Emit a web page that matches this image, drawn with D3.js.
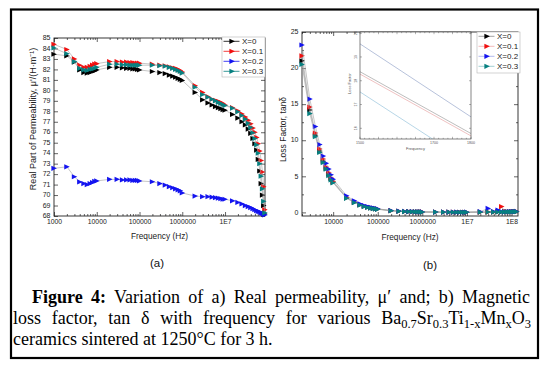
<!DOCTYPE html>
<html>
<head>
<meta charset="utf-8">
<script src="https://d3js.org/d3.v7.min.js"></script>
<style>
body { margin: 0; background: #fff; }
</style>
</head>
<body>
<div id="chart-area"></div>
<script>
// ---- data ----
var seriesNames = ["X=0", "X=0.1", "X=0.2", "X=0.3"];

// (a) real permeability
var freqA = [1000, 2000, 3000, 4000, 5000, 6000, 7000, 8000, 9000,
	10000, 20000, 30000, 40000, 50000, 60000, 70000, 80000, 90000,
	100000, 200000, 300000, 400000, 500000, 600000, 700000, 800000, 900000,
	1e6, 2e6, 3e6, 4e6, 5e6, 6e6, 7e6, 8e6, 9e6,
	1e7, 1.5e7, 2e7, 2.5e7, 3e7, 3.5e7, 4e7, 4.5e7, 5e7, 5.5e7, 6e7, 6.5e7, 7e7, 7.5e7, 8e7, 8.5e7];

var permX0 = [83.45, 83.3, 82.7, 81.95, 81.7, 81.65, 81.7, 81.8, 81.85,
	81.95, 82.2, 82.2, 82.15, 82.1, 82.1, 82.05, 82.05, 82.0,
	81.95, 81.8, 81.7, 81.6, 81.45, 81.35, 81.25, 81.15, 81.05,
	80.95, 79.8, 79.1, 78.8, 78.6, 78.45, 78.35, 78.25, 78.15,
	78.1, 77.7, 77.35, 77.0, 76.7, 76.3, 75.9, 75.4, 74.9, 74.3, 73.4, 72.3, 71.1, 70.0, 69.0, 68.2];
var permX01 = [84.4, 83.9, 83.0, 82.4, 82.2, 82.2, 82.3, 82.4, 82.5,
	82.55, 82.75, 82.75, 82.7, 82.7, 82.65, 82.65, 82.6, 82.6,
	82.6, 82.5, 82.4, 82.35, 82.25, 82.15, 82.1, 82.0, 81.9,
	81.75, 80.45, 79.8, 79.4, 79.15, 79.05, 78.95, 78.85, 78.75,
	78.6, 78.35, 78.05, 77.75, 77.45, 77.15, 76.8, 76.4, 76.0, 75.5, 74.9, 74.2, 73.3, 72.2, 70.8, 68.6];
var permX02 = [72.55, 72.7, 71.75, 71.25, 71.1, 71.0, 71.1, 71.2, 71.3,
	71.35, 71.5, 71.5, 71.45, 71.45, 71.45, 71.4, 71.4, 71.4,
	71.35, 71.27, 71.1, 70.95, 70.8, 70.7, 70.6, 70.5, 70.4,
	70.2, 69.9, 69.85, 69.85, 69.8, 69.75, 69.7, 69.65, 69.6,
	69.6, 69.45, 69.3, 69.15, 69.0, 68.9, 68.8, 68.7, 68.6, 68.5, 68.45, 68.4, 68.3, 68.25, 68.2, 68.1];
var permX03 = [84.05, 83.5, 82.75, 82.1, 81.95, 81.9, 82.0, 82.05, 82.1,
	82.2, 82.5, 82.5, 82.45, 82.45, 82.4, 82.4, 82.4, 82.4,
	82.4, 82.4, 82.35, 82.3, 82.2, 82.1, 82.0, 81.9, 81.8,
	81.65, 80.3, 79.6, 79.35, 79.15, 79.0, 78.85, 78.75, 78.65,
	78.55, 78.3, 77.95, 77.6, 77.25, 76.85, 76.45, 75.95, 75.4, 74.8, 74.0, 73.0, 71.8, 70.6, 69.4, 68.3];

var xTicksA = [1000, 10000, 100000, 1000000, 10000000];
var xLabelsA = ["1000", "10000", "100000", "1000000", "1E7"];
var yTicksA = [68, 69, 70, 71, 72, 73, 74, 75, 76, 77, 78, 79, 80, 81, 82, 83, 84, 85];

// (b) loss factor
var freqB = [2000, 3000, 4000, 5000, 6000, 7000, 8000, 9000,
	10000, 20000, 30000, 40000, 50000, 60000, 70000, 80000, 90000,
	100000, 200000, 300000, 400000, 500000, 600000, 700000, 800000, 900000,
	1e6, 2e6, 3e6, 4e6, 5e6, 6e6, 7e6, 8e6, 9e6,
	1e7, 2e7, 3e7, 4e7, 5e7, 6e7, 7e7, 8e7, 9e7, 1e8, 1.1e8, 1.2e8, 1.3e8];

var lossX0 = [21.0, 14.2, 10.7, 8.5, 7.1, 6.1, 5.3, 4.7,
	4.2, 2.0, 1.4, 1.05, 0.85, 0.72, 0.62, 0.55, 0.5,
	0.45, 0.23, 0.16, 0.12, 0.1, 0.09, 0.08, 0.07, 0.06,
	0.06, 0.04, 0.03, 0.03, 0.02, 0.02, 0.02, 0.02, 0.02,
	0.02, 0.03, 0.04, 0.05, 0.06, 0.05, 0.07, 0.06, 0.08, 0.09, 0.1, 0.1, 0.12];
var lossX01 = [21.7, 14.6, 11.0, 8.8, 7.4, 6.3, 5.5, 4.8,
	4.3, 2.1, 1.45, 1.1, 0.9, 0.75, 0.65, 0.58, 0.52,
	0.47, 0.24, 0.17, 0.13, 0.11, 0.09, 0.08, 0.07, 0.07,
	0.06, 0.04, 0.03, 0.03, 0.03, 0.02, 0.02, 0.02, 0.02,
	0.02, 0.04, 0.05, 0.06, 0.12, 0.8, 0.15, 0.1, 0.08, 0.1, 0.12, 0.1, 0.13];
var lossX02 = [23.2, 15.7, 11.9, 9.4, 7.8, 6.8, 6.0, 5.2,
	4.6, 2.3, 1.6, 1.2, 0.95, 0.8, 0.7, 0.62, 0.55,
	0.5, 0.26, 0.18, 0.14, 0.12, 0.1, 0.09, 0.08, 0.07,
	0.07, 0.05, 0.04, 0.03, 0.03, 0.03, 0.02, 0.02, 0.02,
	0.03, 0.1, 0.55, 0.12, 0.33, 0.1, 0.08, 0.09, 0.1, 0.11, 0.1, 0.12, 0.14];
var lossX03 = [20.5, 13.7, 10.5, 8.3, 6.9, 6.0, 5.1, 4.5,
	4.1, 1.95, 1.35, 1.0, 0.8, 0.68, 0.6, 0.52, 0.48,
	0.43, 0.22, 0.15, 0.12, 0.1, 0.09, 0.08, 0.07, 0.06,
	0.05, 0.04, 0.03, 0.03, 0.02, 0.02, 0.02, 0.02, 0.02,
	0.02, 0.03, 0.04, 0.05, 0.05, 0.06, 0.06, 0.07, 0.08, 0.08, 0.09, 0.1, 0.1];

var xTicksB = [10000, 100000, 1000000, 10000000, 100000000];
var xLabelsB = ["10000", "100000", "1000000", "1E7", "1E8"];
var yTicksB = [0, 5, 10, 15, 20, 25];
var yMinorB = [2.5, 7.5, 12.5, 17.5, 22.5];

// (b) inset
var insetFreq = [1500, 1800];
var insetX0 = [18.38, 15.78];
var insetX01 = [18.28, 15.68];
var insetX02 = [19.55, 16.48];
var insetX03 = [17.53, 14.5];
var insetXTicks = [1500, 1700, 1800];
var insetYTicks = [16, 17, 18, 19, 20];

// ---- styles ----
var colors = ["#000000", "#f01010", "#1414f0", "#078080"];
var paleColors = ["#8c8c8c", "#f0a8a8", "#a0a8e8", "#8cc4c8"];
var insetColors = ["#a0a0a0", "#e8a8a8", "#98a8cc", "#98c4dc"];
var sans = "'Liberation Sans', Arial, sans-serif";
var marker = "M-2.6,-2.6L2.9,0L-2.6,2.6Z";

var svg = d3.select("#chart-area")
	.append("svg")
		.attr("width", 548)
		.attr("height", 367)
		.attr("font-family", sans);

svg.append("rect")
	.attr("x", 11)
	.attr("y", 9.5)
	.attr("width", 527)
	.attr("height", 348.5)
	.attr("fill", "#fff")
	.attr("stroke", "#000")
	.attr("stroke-width", 2.2);

// axes + frame, ticks pointing inward on all four sides
function drawAxes(g, x, y, width, height, xMajor, xLabels, xMinor, yMajor, yMinor) {
	var c = "#222";
	function style(sel, fs) {
		sel.attr("font-family", sans).attr("font-size", fs).attr("color", c);
		sel.select(".domain").remove();
		sel.selectAll(".tick line").attr("stroke-width", 0.7);
	}
	g.append("g")
		.attr("transform", "translate(0," + height + ")")
		.call(d3.axisBottom(x).tickValues(xMajor).tickSize(-4).tickPadding(3.5)
			.tickFormat(function(d, i){ return xLabels[i]; }))
		.call(style, 6.8);
	g.append("g")
		.attr("transform", "translate(0," + height + ")")
		.call(d3.axisBottom(x).tickValues(xMinor).tickSize(-2).tickFormat(""))
		.call(style, 6.8);
	g.append("g")
		.call(d3.axisTop(x).tickValues(xMajor).tickSize(-4).tickFormat(""))
		.call(style, 6.8);
	g.append("g")
		.call(d3.axisTop(x).tickValues(xMinor).tickSize(-2).tickFormat(""))
		.call(style, 6.8);
	g.append("g")
		.call(d3.axisLeft(y).tickValues(yMajor).tickSize(-4).tickPadding(3.5))
		.call(style, 7)
		.selectAll("text").attr("dy", "0.25em");
	g.append("g")
		.attr("transform", "translate(" + width + ",0)")
		.call(d3.axisRight(y).tickValues(yMajor).tickSize(-4).tickFormat(""))
		.call(style, 7);
	if (yMinor) {
		g.append("g")
			.call(d3.axisLeft(y).tickValues(yMinor).tickSize(-2).tickFormat(""))
			.call(style, 7);
		g.append("g")
			.attr("transform", "translate(" + width + ",0)")
			.call(d3.axisRight(y).tickValues(yMinor).tickSize(-2).tickFormat(""))
			.call(style, 7);
	}
	g.append("rect")
		.attr("width", width)
		.attr("height", height)
		.attr("fill", "none")
		.attr("stroke", "#222")
		.attr("stroke-width", 0.9);
}

function drawSeries(g, x, y, freq, values, color) {
	var pts = d3.zip(freq, values);
	g.append("path")
		.datum(pts)
		.attr("fill", "none")
		.attr("stroke", "#a0a0a0")
		.attr("stroke-width", 0.6)
		.attr("d", d3.line().x(function(d){ return x(d[0]); }).y(function(d){ return y(d[1]); }));
	g.selectAll(null)
		.data(pts)
		.enter()
		.append("path")
			.attr("d", marker)
			.attr("fill", color)
			.attr("transform", function(d){ return "translate(" + x(d[0]) + "," + y(d[1]) + ")"; });
}

function drawLegend(g, x0, y0, w, h, lineColors) {
	var lg = g.append("g").attr("transform", "translate(" + x0 + "," + y0 + ")");
	lg.append("rect")
		.attr("width", w)
		.attr("height", h)
		.attr("fill", "#fff")
		.attr("stroke", "#b4b4b4")
		.attr("stroke-width", 0.6);
	seriesNames.forEach(function(name, i){
		var yy = 4.3 + i * 10;
		lg.append("line")
			.attr("x1", 1.5).attr("x2", 17.5)
			.attr("y1", yy).attr("y2", yy)
			.attr("stroke", lineColors[i])
			.attr("stroke-width", 0.8);
		lg.append("path")
			.attr("d", marker)
			.attr("fill", colors[i])
			.attr("transform", "translate(10," + yy + ")");
		lg.append("text")
			.attr("x", 20)
			.attr("y", yy + 2.8)
			.attr("font-size", 8)
			.attr("fill", "#222")
			.text(name);
	});
}

// ================= (a) =================
var gA = svg.append("g").attr("transform", "translate(54,38)");
var widthA = 211, heightA = 178;

var xA = d3.scaleLog().domain([1000, 8.6e7]).range([0, widthA]);
var yA = d3.scaleLinear().domain([68, 85]).range([heightA, 0]);
var minorA = xA.ticks().filter(function(d){ return xTicksA.indexOf(d) < 0; });

drawAxes(gA, xA, yA, widthA, heightA, xTicksA, xLabelsA, minorA, yTicksA, null);

[permX0, permX01, permX02, permX03].forEach(function(v, i){
	drawSeries(gA, xA, yA, freqA, v, colors[i]);
});

drawLegend(svg, 222, 37, 43, 40, colors);

// X Label
svg.append("text")
	.attr("x", 159.5)
	.attr("y", 239)
	.attr("font-size", 8.3)
	.attr("text-anchor", "middle")
	.attr("fill", "#222")
	.text("Frequency (Hz)");

// Y Label
svg.append("text")
	.attr("transform", "translate(36,119) rotate(-90)")
	.attr("font-size", 9)
	.attr("text-anchor", "middle")
	.attr("fill", "#222")
	.text("Real Part of Permeability, μ'/(H·m⁻¹)");

svg.append("text")
	.attr("x", 157)
	.attr("y", 266.5)
	.attr("font-size", 11.5)
	.attr("text-anchor", "middle")
	.attr("fill", "#111")
	.text("(a)");

// ================= (b) =================
var gB = svg.append("g").attr("transform", "translate(302,32)");
var widthB = 216, heightB = 184;

var xB = d3.scaleLog().domain([2000, 1.4e8]).range([0, widthB]);
var yB = d3.scaleLinear().domain([-0.5, 25]).range([heightB, 0]);
var minorB = xB.ticks().filter(function(d){ return xTicksB.indexOf(d) < 0; });

drawAxes(gB, xB, yB, widthB, heightB, xTicksB, xLabelsB, minorB, yTicksB, yMinorB);

[lossX0, lossX01, lossX02, lossX03].forEach(function(v, i){
	drawSeries(gB, xB, yB, freqB, v, colors[i]);
});

// inset
var gI = svg.append("g").attr("transform", "translate(360,32)");
var widthI = 111, heightI = 107;
var xI = d3.scaleLinear().domain([1500, 1800]).range([0, widthI]);
var yI = d3.scaleLinear().domain([15.55, 20.05]).range([heightI, 0]);

gI.append("rect")
	.attr("width", widthI)
	.attr("height", heightI)
	.attr("fill", "#fff");
gI.append("clipPath")
	.attr("id", "inset-clip")
	.append("rect")
		.attr("width", widthI)
		.attr("height", heightI);

[insetX0, insetX01, insetX02, insetX03].forEach(function(v, i){
	gI.append("path")
		.datum(d3.zip(insetFreq, v))
		.attr("clip-path", "url(#inset-clip)")
		.attr("fill", "none")
		.attr("stroke", insetColors[i])
		.attr("stroke-width", 0.7)
		.attr("d", d3.line().x(function(d){ return xI(d[0]); }).y(function(d){ return yI(d[1]); }));
});

var minorI = d3.range(1500, 1801, 12.5);
[[0, -2.2, -1.2], [heightI, 2.2, 1.2]].forEach(function(s){
	gI.selectAll(null).data(minorI).enter().append("line")
		.attr("x1", function(d){ return xI(d); }).attr("x2", function(d){ return xI(d); })
		.attr("y1", s[0]).attr("y2", function(d){ return s[0] - (d % 50 === 0 ? s[1] : s[2]); })
		.attr("stroke", "#444").attr("stroke-width", 0.4);
});
[[0, 2], [widthI, -2]].forEach(function(s){
	gI.selectAll(null).data(insetYTicks).enter().append("line")
		.attr("x1", s[0]).attr("x2", s[0] + s[1])
		.attr("y1", function(d){ return yI(d); }).attr("y2", function(d){ return yI(d); })
		.attr("stroke", "#444").attr("stroke-width", 0.4);
});
gI.selectAll(null).data(insetXTicks).enter().append("text")
	.attr("x", function(d){ return xI(d); })
	.attr("y", heightI + 5)
	.attr("font-size", 3.6)
	.attr("text-anchor", "middle")
	.attr("fill", "#555")
	.text(function(d){ return d; });
gI.selectAll(null).data(insetYTicks).enter().append("text")
	.attr("transform", function(d){ return "translate(-3," + yI(d) + ") rotate(-90)"; })
	.attr("font-size", 3.6)
	.attr("text-anchor", "middle")
	.attr("fill", "#555")
	.text(function(d){ return d; });
gI.append("text")
	.attr("transform", "translate(-9," + (heightI / 2 - 2) + ") rotate(-90)")
	.attr("font-size", 4)
	.attr("text-anchor", "middle")
	.attr("fill", "#555")
	.text("Loss Factor");
gI.append("text")
	.attr("x", widthI / 2)
	.attr("y", heightI + 11)
	.attr("font-size", 4)
	.attr("text-anchor", "middle")
	.attr("fill", "#555")
	.text("Frequency");
gI.append("rect")
	.attr("width", widthI)
	.attr("height", heightI)
	.attr("fill", "none")
	.attr("stroke", "#333")
	.attr("stroke-width", 0.6);

drawLegend(svg, 477, 32, 43, 41, paleColors);

// X Label
svg.append("text")
	.attr("x", 410)
	.attr("y", 239.5)
	.attr("font-size", 8.3)
	.attr("text-anchor", "middle")
	.attr("fill", "#222")
	.text("Frequency (Hz)");

// Y Label
svg.append("text")
	.attr("transform", "translate(286,129.5) rotate(-90)")
	.attr("font-size", 8.5)
	.attr("text-anchor", "middle")
	.attr("fill", "#222")
	.text("Loss Factor, tanδ");

svg.append("text")
	.attr("x", 430)
	.attr("y", 268.5)
	.attr("font-size", 11.5)
	.attr("text-anchor", "middle")
	.attr("fill", "#111")
	.text("(b)");

// ================= caption =================
var cap = svg.append("g")
	.attr("font-family", "'Liberation Serif', 'Times New Roman', serif")
	.attr("font-size", 18)
	.attr("fill", "#000");

function justify(text, width) {
	var node = text.node();
	var spaces = node.textContent.split(" ").length - 1;
	var extra = (width - node.getComputedTextLength()) / spaces;
	text.style("word-spacing", Math.max(0, extra) + "px");
}

var line1 = cap.append("text").attr("x", 32).attr("y", 303);
line1.append("tspan").attr("font-weight", "bold").text("Figure 4:");
line1.append("tspan").text(" Variation of a) Real permeability, μ′ and; b) Magnetic");
justify(line1, 530 - 32);

var line2 = cap.append("text").attr("x", 13).attr("y", 324);
var parts = [["loss factor, tan δ with frequency for various Ba", 0], ["0.7", 1], ["Sr", 0], ["0.3", 1],
	["Ti", 0], ["1-x", 1], ["Mn", 0], ["x", 1], ["O", 0], ["3", 1]];
var prev = 0;
parts.forEach(function(p){
	line2.append("tspan")
		.attr("dy", (p[1] - prev) * 4)
		.attr("font-size", p[1] ? 12.5 : 18)
		.text(p[0]);
	prev = p[1];
});
justify(line2, 531 - 13);

cap.append("text")
	.attr("x", 13)
	.attr("y", 345)
	.text("ceramics sintered at 1250°C for 3 h.");
</script>
</body>
</html>
